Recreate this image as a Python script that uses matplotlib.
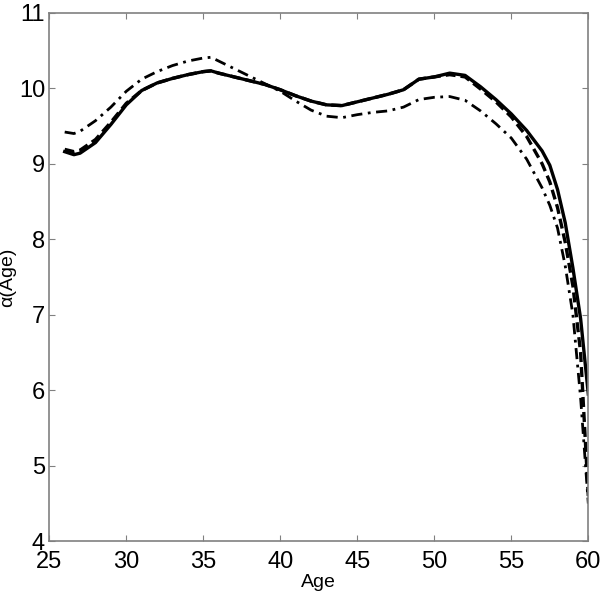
import numpy as np
import matplotlib
matplotlib.use("Agg")
import matplotlib.pyplot as plt

plt.rcParams["font.family"] = ["Liberation Sans Narrow", "Liberation Sans", "DejaVu Sans"]

age = [26, 26.6, 27, 28, 29, 30, 31, 32, 33, 34, 35, 35.5, 36, 37, 38, 39,
       40, 41, 42, 43, 44, 45, 46, 47, 48, 49, 50, 51, 52, 53, 54, 55,
       56, 57, 57.5, 58, 58.5, 59, 59.5, 60]

alpha_solid = [9.16, 9.12, 9.14, 9.28, 9.52, 9.78, 9.97, 10.07, 10.13, 10.18,
               10.22, 10.23, 10.2, 10.15, 10.1, 10.05, 9.98, 9.9, 9.83, 9.78,
               9.77, 9.82, 9.87, 9.92, 9.98, 10.12, 10.15, 10.2, 10.17, 10.02,
               9.85, 9.66, 9.44, 9.17, 8.98, 8.66, 8.22, 7.62, 6.95, 5.95]

alpha_dashed = [9.19, 9.16, 9.18, 9.32, 9.55, 9.8, 9.97, 10.07, 10.13, 10.18,
                10.22, 10.23, 10.2, 10.15, 10.1, 10.05, 9.98, 9.9, 9.83, 9.78,
                9.77, 9.82, 9.87, 9.92, 9.98, 10.12, 10.15, 10.18, 10.15, 9.99,
                9.82, 9.62, 9.36, 9.0, 8.76, 8.42, 7.96, 7.38, 6.5, 4.6]

alpha_dashdot = [9.42, 9.4, 9.43, 9.57, 9.75, 9.96, 10.12, 10.22, 10.3, 10.36,
                 10.4, 10.41, 10.36, 10.26, 10.16, 10.06, 9.96, 9.83, 9.71, 9.63,
                 9.61, 9.65, 9.68, 9.7, 9.75, 9.85, 9.88, 9.89, 9.84, 9.7,
                 9.53, 9.34, 9.06, 8.68, 8.45, 8.15, 7.65, 7.0, 5.9, 4.5]

xticks = [25, 30, 35, 40, 45, 50, 55, 60]
yticks = [4, 5, 6, 7, 8, 9, 10, 11]

fig = plt.figure(figsize=(6.07, 6.00), dpi=100)
ax = fig.add_axes([0.0812, 0.0978, 0.888, 0.881])

ax.plot(age, alpha_solid, "k-", linewidth=2.4)
ax.plot(age, alpha_dashed, "k--", linewidth=2.4, dashes=(3, 1.5))
ax.plot(age, alpha_dashdot, "k-.", linewidth=2.0, dashes=(4, 2, 1, 2))

ax.set_xlim(25, 60)
ax.set_ylim(4, 11)
ax.set_xticks(xticks)
ax.set_yticks(yticks)
ax.tick_params(direction="in", length=4, top=True, right=True,
               labelsize=17, color="#808080")
ax.tick_params(axis="x", pad=7)
ax.tick_params(axis="y", pad=3)
for s in ax.spines.values():
    s.set_color("#808080")
    s.set_linewidth(1.2)

ax.set_xlabel("Age", fontsize=14, labelpad=1)
ax.set_ylabel("α(Age)", fontsize=14, labelpad=2)

fig.savefig("out.png", dpi=100)
